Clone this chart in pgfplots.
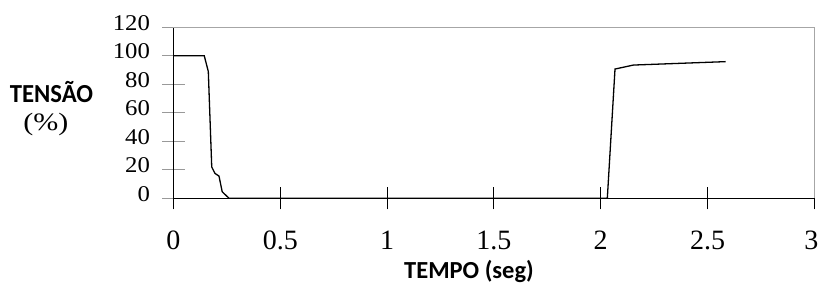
\documentclass[border=0pt]{standalone}
\usepackage{pgfplots}
\pgfplotsset{compat=1.18}
\usepackage{fontspec}
\setmainfont{Liberation Serif}
\newfontfamily\ylab[FakeStretch=1.1]{Liberation Serif}
\newfontfamily\pct[FakeStretch=1.2]{Liberation Serif}
\newfontfamily\tensao[FakeStretch=0.95]{Carlito}
\newfontfamily\tempo{Carlito}
\begin{document}
\begin{tikzpicture}
\begin{axis}[name=ax, at={(0,0)}, anchor=south west, scale only axis,
  width=640.8pt, height=171pt,
  xmin=0, xmax=3, ymin=0, ymax=120,
  axis lines*=left,
  axis line style={black, line width=1.2pt},
  xtick={0,0.5,1,1.5,2,2.5,3},
  xticklabels={0,0.5,1,1.5,2,2.5,\makebox[0pt][r]{3\kern-4pt}},
  ytick={0,20,40,60,80,100,120},
  tick align=center,
  major tick length=22pt,
  x tick style={black, line width=0.9pt},
  y tick style={gray!80, line width=0.9pt},
  /pgf/number format/assume math mode=true,
  xticklabel style={font=\fontsize{28}{32}\selectfont, anchor=base, yshift=-40pt},
  yticklabel style={font=\ylab\fontsize{22.5}{26}\selectfont, anchor=east, xshift=-9pt, yshift=4.5pt},
  clip=false]
\addplot[black, line width=1.3pt] coordinates {
  (0,100) (0.144,100) (0.163,89) (0.179,22) (0.194,17.5) (0.213,15.6)
  (0.228,4.6) (0.26,0) (2.031,0) (2.067,90.7) (2.153,93.5) (2.585,95.9)};
\draw[gray!70, line width=1pt] (rel axis cs:0,1) -- (rel axis cs:1,1) -- (rel axis cs:1,0);
\end{axis}
\node[font=\tensao\bfseries\fontsize{26}{30}\selectfont, anchor=base, inner sep=0pt] at ([xshift=-122pt,yshift=96pt]ax.south west) {TENS\~AO};
\node[font=\pct\fontsize{25}{29}\selectfont, anchor=base, inner sep=0pt] at ([xshift=-127.7pt,yshift=67.8pt]ax.south west) {(\%)};
\node[font=\tempo\bfseries\fontsize{24.5}{28}\selectfont, anchor=base, inner sep=0pt] at ([xshift=295.5pt,yshift=-80.5pt]ax.south west) {TEMPO (seg)};
\pgfresetboundingbox
\path[use as bounding box] ([xshift=-173.5pt,yshift=-86.7pt]ax.south west) rectangle ([xshift=4.7pt,yshift=27.3pt]ax.north east);
\end{tikzpicture}
\end{document}
